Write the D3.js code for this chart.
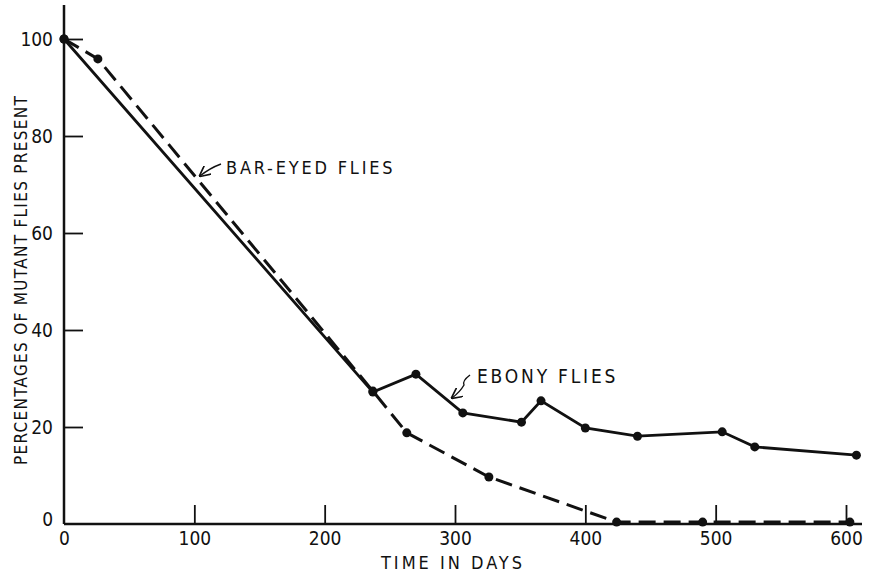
<!DOCTYPE html>
<html><head><meta charset="utf-8">
<script src="https://cdn.jsdelivr.net/npm/d3@7"></script>
<style>
body{margin:0;background:#fff;}
text{font-family:"DejaVu Sans Condensed","Liberation Sans",sans-serif;fill:#111;}
</style></head><body>
<svg id="c" width="872" height="576"></svg>
<script>
const xTicks = [0,100,200,300,400,500,600];
const yTicks = [0,20,40,60,80,100];
const ebonyDays = [0,237,270,306,351,366,400,440,505,530,608];
const ebonyPct  = [100,27.2,30.9,22.9,21.0,25.4,19.8,18.1,19.0,15.9,14.2];
const barDays = [0,26,237,263,326,424,490,603];
const barPct  = [100,95.9,27.4,18.8,9.7,0.4,0.4,0.4];
const xLabel = "TIME IN DAYS";
const yLabel = "PERCENTAGES OF MUTANT FLIES PRESENT";
const barLabel = "BAR-EYED FLIES";
const ebonyLabel = "EBONY FLIES";

const svg = d3.select("#c");
const x = d3.scaleLinear().domain([0,600]).range([64,846]);
const y = d3.scaleLinear().domain([0,100]).range([524,39]);

svg.append("line").attr("x1",64).attr("x2",862).attr("y1",y(0)).attr("y2",y(0)).attr("stroke","#111").attr("stroke-width",2.5);
svg.append("line").attr("x1",64).attr("x2",64).attr("y1",5).attr("y2",y(0)).attr("stroke","#111").attr("stroke-width",2.5);

const xAxis = d3.axisBottom(x).tickValues(xTicks).tickSize(0).tickPadding(8);
const gx = svg.append("g").attr("transform",`translate(0,${y(0)})`).call(xAxis);
gx.select(".domain").remove();
gx.selectAll("text").attr("font-size",19).style("font-family",null);
gx.selectAll(".tick").filter(d=>d>0).append("line").attr("y1",0).attr("y2",-19).attr("stroke","#111").attr("stroke-width",1.8);

const yAxis = d3.axisLeft(y).tickValues(yTicks).tickSize(0).tickPadding(11);
const gy = svg.append("g").attr("transform",`translate(64,0)`).call(yAxis);
gy.select(".domain").remove();
gy.selectAll("text").attr("font-size",19).style("font-family",null).attr("dy","0.35em");
gy.selectAll(".tick").filter(d=>d>0).append("line").attr("x1",0).attr("x2",19).attr("stroke","#111").attr("stroke-width",1.8);
gy.selectAll(".tick").filter(d=>d===0).select("text").attr("dy","0.1em");

svg.append("text").attr("x",453).attr("y",569).attr("text-anchor","middle").attr("font-size",18).attr("letter-spacing",3).text(xLabel);
svg.append("text").attr("transform","translate(27,280) rotate(-90)").attr("text-anchor","middle").attr("font-size",17).attr("letter-spacing",1.3).text(yLabel);

const line = d3.line().x(d=>x(d[0])).y(d=>y(d[1]));
const ebony = ebonyDays.map((d,i)=>[d,ebonyPct[i]]);
const bar = barDays.map((d,i)=>[d,barPct[i]]);

svg.append("path").datum(bar).attr("d",line).attr("fill","none").attr("stroke","#111").attr("stroke-width",3).attr("stroke-dasharray","17,8");
svg.append("path").datum(ebony).attr("d",line).attr("fill","none").attr("stroke","#111").attr("stroke-width",2.8);

svg.selectAll(".pe").data(ebony).enter().append("circle").attr("cx",d=>x(d[0])).attr("cy",d=>y(d[1])).attr("r",4.5).attr("fill","#111");
svg.selectAll(".pb").data(bar).enter().append("circle").attr("cx",d=>x(d[0])).attr("cy",d=>y(d[1])).attr("r",4.5).attr("fill","#111");

svg.append("defs").append("marker").attr("id","ah").attr("viewBox","0 0 10 10").attr("refX",9).attr("refY",5)
  .attr("markerWidth",8).attr("markerHeight",8).attr("orient","auto-start-reverse")
  .append("path").attr("d","M0,0 L10,5 L0,10").attr("fill","none").attr("stroke","#111").attr("stroke-width",1.5);

svg.append("text").attr("x",226).attr("y",174).attr("font-size",18).attr("letter-spacing",2.8).text(barLabel);
svg.append("path").attr("d","M221,164 Q210,168 200,176").attr("fill","none").attr("stroke","#111").attr("stroke-width",1.4).attr("marker-end","url(#ah)");

svg.append("text").attr("x",477).attr("y",383).attr("font-size",19).attr("letter-spacing",2.8).text(ebonyLabel);
svg.append("path").attr("d","M470,375 Q462,381 464,385 Q460,392 452,398").attr("fill","none").attr("stroke","#111").attr("stroke-width",1.4).attr("marker-end","url(#ah)");
</script></body></html>
